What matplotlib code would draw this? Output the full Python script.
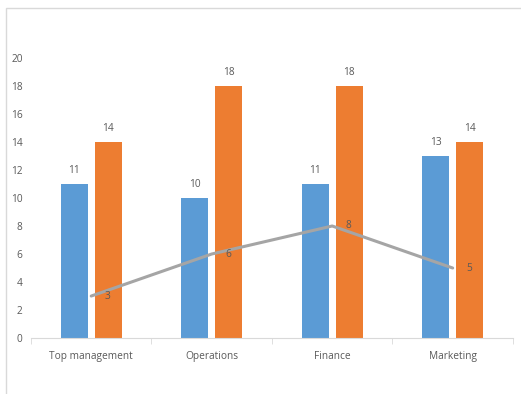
import numpy as np
import matplotlib.pyplot as plt
from matplotlib.patches import Rectangle

# Chart data
categories = ['Top management', 'Operations', 'Finance', 'Marketing']
series_a = [11, 10, 11, 13]
series_b = [14, 18, 18, 14]
series_line = [3, 6, 8, 5]

blue = '#5B9BD5'
orange = '#ED7D31'
grey = '#A5A5A5'
text_col = '#595959'

plt.rcParams['font.family'] = ['Open Sans', 'DejaVu Sans']

fig = plt.figure(figsize=(5.21, 3.94), dpi=100)
ax = fig.add_axes([0.0595, 0.142, 0.925, 0.711])

# Chart frame
fig.patches.append(Rectangle((6 / 521, -0.1), 1.2, (394 - 8) / 394 + 0.1,
                             transform=fig.transFigure, fill=False,
                             edgecolor='#D9D9D9', linewidth=1))

x = np.arange(len(categories))
w = 0.224
off = 0.141
bars_a = ax.bar(x - off, series_a, w, color=blue)
bars_b = ax.bar(x + off, series_b, w, color=orange)
ax.plot(x, series_line, color=grey, linewidth=2.2, solid_capstyle='round')

fs = 7.3
for bars, vals in ((bars_a, series_a), (bars_b, series_b)):
    for b, v in zip(bars, vals):
        ax.annotate(str(v), (b.get_x() + b.get_width() / 2, v), xytext=(0, 6),
                    textcoords='offset points', ha='center', va='bottom',
                    fontsize=fs, color=text_col)
for xi, v in zip(x, series_line):
    ax.annotate(str(v), (xi, v), xytext=(12, 0), textcoords='offset points',
                ha='center', va='center', fontsize=fs, color=text_col)

ax.set_xlim(-0.5, len(categories) - 0.5)
ax.set_ylim(0, 20)
ax.set_yticks(np.arange(0, 21, 2))
ax.set_xticks(x)
ax.set_xticklabels(categories)
ax.set_xticks(np.arange(-0.5, len(categories)), minor=True)

for s in ['top', 'right', 'left']:
    ax.spines[s].set_visible(False)
ax.spines['bottom'].set_color('#D9D9D9')
ax.tick_params(axis='y', length=0, labelsize=fs, labelcolor=text_col, pad=6)
ax.tick_params(axis='x', which='major', length=0, labelsize=fs,
               labelcolor=text_col, pad=9)
ax.tick_params(axis='x', which='minor', length=4, color='#D9D9D9')

fig.savefig('out.png', dpi=100)
